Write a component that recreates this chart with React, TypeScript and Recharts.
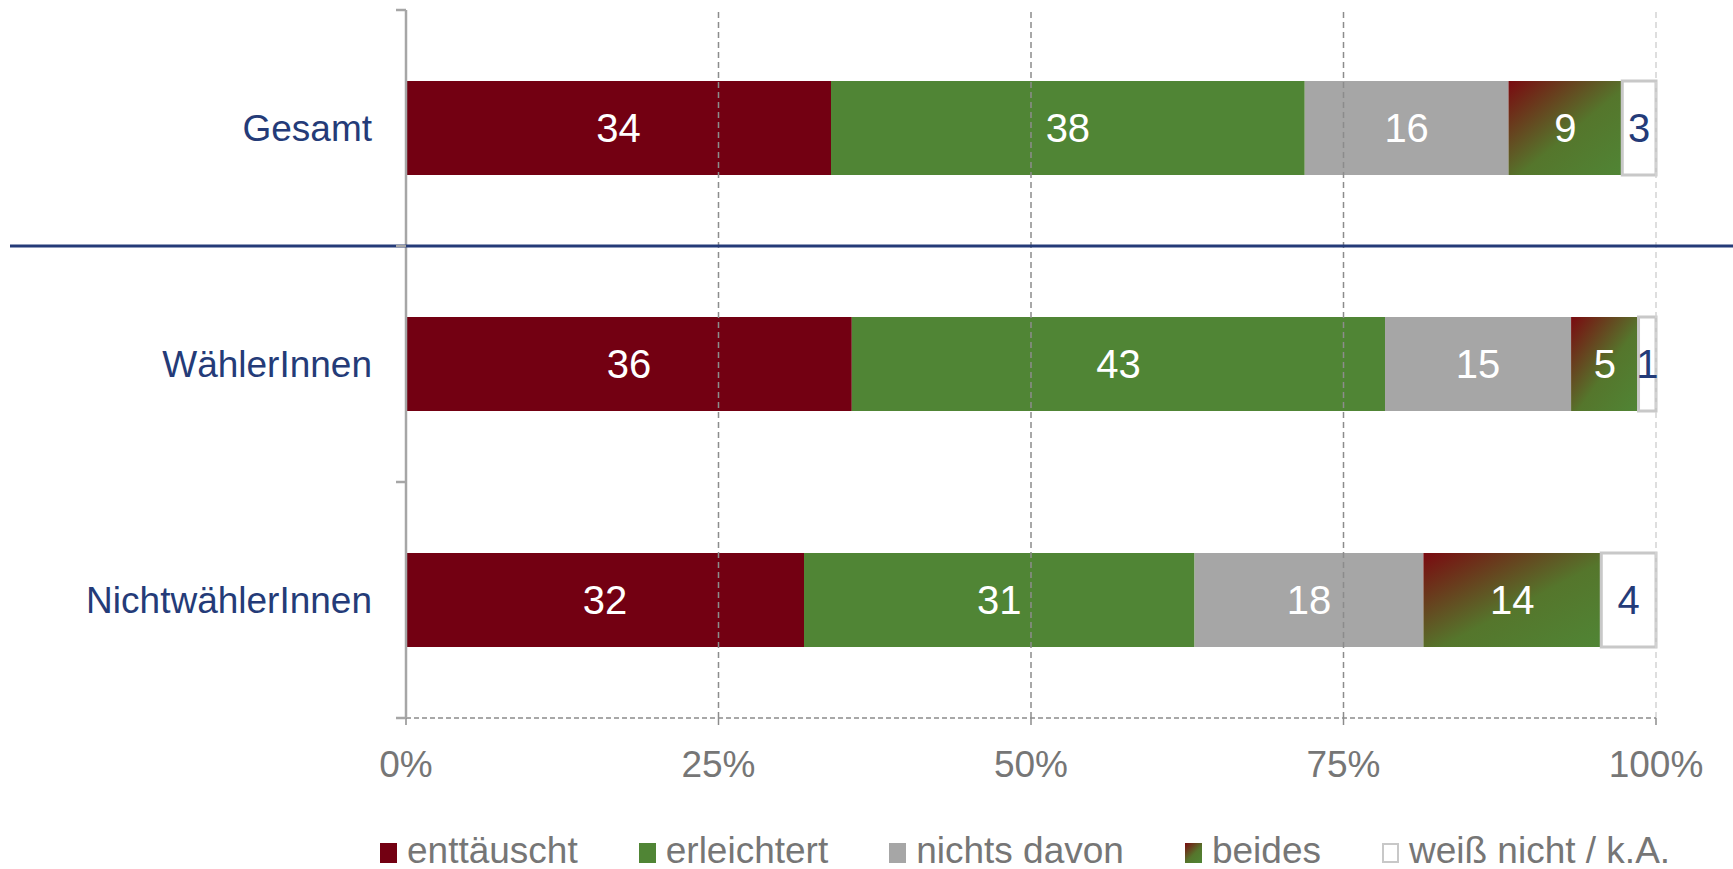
import React from "react";
import {
  BarChart,
  Bar,
  XAxis,
  YAxis,
  ReferenceLine,
  LabelList,
  Legend,
} from "recharts";

// survey answers in percent
const categories = ["Gesamt", "WählerInnen", "NichtwählerInnen"];
const enttaeuscht = [34.0, 35.7, 32.0];
const erleichtert = [37.9, 42.7, 31.4];
const nichtsDavon = [16.3, 14.9, 18.4];
const beides = [9.1, 5.4, 14.3];
const weissNicht = [2.7, 1.4, 4.4];

const xTicks = [0, 0.25, 0.5, 0.75, 1];

const CHART_W = 1733;
const CHART_H = 869;
const NAVY = "#243B78";
const AXIS_GRAY = "#A6A6A6";
const TEXT_GRAY = "#767676";

const series = [
  { key: "enttaeuscht", name: "enttäuscht", fill: "#730012", label: "#FFFFFF" },
  { key: "erleichtert", name: "erleichtert", fill: "#508535", label: "#FFFFFF" },
  { key: "nichtsDavon", name: "nichts davon", fill: "#A6A6A6", label: "#FFFFFF" },
  { key: "beides", name: "beides", fill: "url(#beidesGrad)", label: "#FFFFFF" },
  { key: "weissNicht", name: "weiß nicht / k.A.", fill: "#FFFFFF", label: NAVY },
];

const data = categories.map((name, i) => ({
  name,
  enttaeuscht: enttaeuscht[i],
  erleichtert: erleichtert[i],
  nichtsDavon: nichtsDavon[i],
  beides: beides[i],
  weissNicht: weissNicht[i],
}));

// category label plus the small tick marks between the bands,
// and the blue separator under "Gesamt"
function CategoryTick(props: any) {
  const { x, y, payload, index, height } = props;
  const band = (height || 708) / categories.length;
  const axisX = x + 34; // tickSize 10 + tickMargin 24
  const top = y - band / 2;
  const bottom = y + band / 2;
  return (
    <g>
      <line x1={axisX - 10} x2={axisX} y1={top} y2={top} stroke={AXIS_GRAY} strokeWidth={2.5} />
      {index === categories.length - 1 && (
        <line x1={axisX - 10} x2={axisX} y1={bottom} y2={bottom} stroke={AXIS_GRAY} strokeWidth={2.5} />
      )}
      {index === 0 && (
        <line x1={10} x2={CHART_W} y1={bottom} y2={bottom} stroke={NAVY} strokeWidth={3} />
      )}
      <text x={x} y={y} dy="0.35em" textAnchor="end" fill={NAVY} fontSize={37}>
        {payload.value}
      </text>
    </g>
  );
}

function LegendContent() {
  return (
    <div
      style={{
        display: "flex",
        alignItems: "center",
        paddingLeft: 380,
        height: 36,
        gap: 61,
        fontSize: 37,
        color: TEXT_GRAY,
        lineHeight: "36px",
        whiteSpace: "nowrap",
      }}
    >
      {series.map((s) => (
        <div key={s.key} style={{ display: "flex", alignItems: "center", gap: 10 }}>
          <span
            style={{
              display: "inline-block",
              boxSizing: "border-box",
              width: 17,
              height: 20,
              marginTop: 4,
              background:
                s.key === "beides"
                  ? "linear-gradient(135deg, #7A0A10 0%, #55762C 55%, #508535 100%)"
                  : s.fill,
              border: s.key === "weissNicht" ? "2px solid #C8C8C8" : "none",
            }}
          />
          <span>{s.name}</span>
        </div>
      ))}
    </div>
  );
}

export default function App() {
  return (
    <div
      style={{
        position: "absolute",
        left: 0,
        top: 0,
        fontFamily: "'Liberation Sans', Arial, sans-serif",
      }}
    >
      <BarChart
        width={CHART_W}
        height={CHART_H}
        data={data}
        layout="vertical"
        stackOffset="expand"
        margin={{ top: 10, right: 77, left: 0, bottom: 0 }}
      >
        <defs>
          <linearGradient id="beidesGrad" x1="0" y1="0" x2="1" y2="1">
            <stop offset="0%" stopColor="#7A0A10" />
            <stop offset="55%" stopColor="#55762C" />
            <stop offset="100%" stopColor="#508535" />
          </linearGradient>
        </defs>
        <XAxis
          type="number"
          domain={[0, 1]}
          ticks={xTicks}
          tickFormatter={(v: number) => `${Math.round(v * 100)}%`}
          tick={{ fill: TEXT_GRAY, fontSize: 37 }}
          axisLine={{ stroke: "#8C8C8C", strokeDasharray: "5 3", strokeWidth: 1.5 }}
          tickLine={{ stroke: "#8C8C8C", strokeWidth: 1.5 }}
          tickSize={7}
          tickMargin={26}
          height={115}
          interval={0}
        />
        <YAxis
          yAxisId="cat"
          type="category"
          dataKey="name"
          width={406}
          tickSize={10}
          tickMargin={24}
          tickLine={false}
          interval={0}
          axisLine={{ stroke: AXIS_GRAY, strokeWidth: 2.5 }}
          tick={<CategoryTick />}
        />
        {xTicks.slice(1).map((t) => (
          <ReferenceLine
            key={t}
            x={t}
            yAxisId="cat"
            stroke={t === 1 ? "#D3D3D3" : "#8C8C8C"}
            strokeDasharray="6 4"
            strokeWidth={1.5}
          />
        ))}
        {series.map((s) => (
          <Bar
            key={s.key}
            dataKey={s.key}
            name={s.name}
            stackId="a"
            yAxisId="cat"
            fill={s.fill}
            stroke={s.key === "weissNicht" ? "#C8C8C8" : "none"}
            strokeWidth={s.key === "weissNicht" ? 3 : 0}
            barSize={94}
            isAnimationActive={false}
          >
            <LabelList
              dataKey={s.key}
              position="center"
              formatter={(v: any) => Math.round(Number(v))}
              fill={s.label}
              fontSize={40}
            />
          </Bar>
        ))}
        <Legend
          verticalAlign="bottom"
          content={<LegendContent />}
          wrapperStyle={{ left: 0, width: CHART_W, height: 36, bottom: 0 }}
        />
      </BarChart>
    </div>
  );
}
